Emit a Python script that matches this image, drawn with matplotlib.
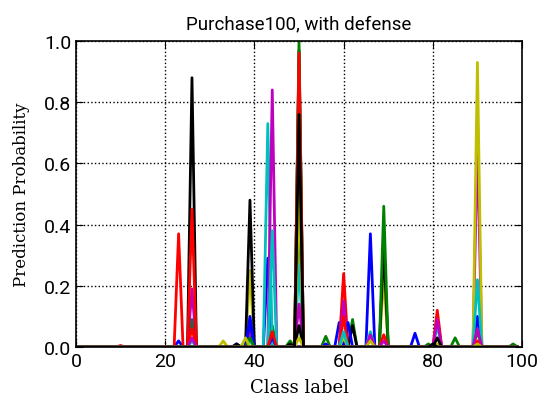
import numpy as np
import matplotlib
matplotlib.use("Agg")
import matplotlib.pyplot as plt

# prediction vectors of a few member samples (mostly zero, spikes at a few labels)
n_classes = 100
line_colors = ["b", "g", "r", "c", "m", "y", "k",
               "b", "g", "r", "c", "m", "y", "k",
               "b", "g", "r", "c", "m", "y", "k"]
line_peaks = [
    {23: 0.02, 43: 0.29, 59: 0.08, 76: 0.045, 90: 0.10},
    {26: 0.09, 44: 0.07, 50: 0.45, 62: 0.09, 85: 0.03},
    {23: 0.37, 39: 0.06, 60: 0.24},
    {43: 0.73, 50: 0.27, 69: 0.30, 81: 0.07},
    {26: 0.19, 44: 0.84, 60: 0.15, 90: 0.67},
    {33: 0.02, 39: 0.25, 50: 0.50, 69: 0.23, 90: 0.93},
    {26: 0.88, 39: 0.48, 50: 0.97, 62: 0.07, 69: 0.33},
    {36: 0.01, 39: 0.10, 61: 0.08, 66: 0.37},
    {48: 0.02, 50: 1.00, 56: 0.035, 69: 0.46, 79: 0.01, 98: 0.01},
    {10: 0.005, 26: 0.45, 50: 0.96, 81: 0.12},
    {39: 0.02, 44: 0.38, 66: 0.05, 90: 0.22},
    {39: 0.04, 50: 0.14, 66: 0.04, 81: 0.09},
    {56: 0.01, 60: 0.03, 66: 0.02, 81: 0.01},
    {36: 0.01, 48: 0.01, 50: 0.07, 81: 0.03},
    {39: 0.08, 44: 0.03, 56: 0.01},
    {39: 0.03, 90: 0.05},
    {26: 0.06, 44: 0.05, 60: 0.10, 69: 0.04, 90: 0.02},
    {26: 0.02, 60: 0.05},
    {26: 0.03, 69: 0.02, 90: 0.06},
    {38: 0.03, 50: 0.03, 90: 0.01},
    {50: 0.76, 80: 0.01},
]

labels = np.arange(n_classes)
probs = np.zeros((len(line_peaks), n_classes))
for i, peaks in enumerate(line_peaks):
    for c, p in peaks.items():
        probs[i, c] = p

fig = plt.figure(figsize=(5.52, 4.02), dpi=100)
ax = fig.add_axes([0.1377, 0.1343, 0.808, 0.7612])

for i in range(len(probs)):
    ax.plot(labels, probs[i], color=line_colors[i], linewidth=2)

ax.set_xlim(0, 100)
ax.set_ylim(0, 1.0)
ax.set_xticks([0, 20, 40, 60, 80, 100])
ax.set_yticks([0.0, 0.2, 0.4, 0.6, 0.8, 1.0])
ax.grid(True, linestyle=":", color="black", linewidth=1)
ax.tick_params(direction="in", top=True, right=True, length=5, labelsize=14)
for t in ax.get_xticklabels() + ax.get_yticklabels():
    t.set_fontfamily("Roboto")
for s in ax.spines.values():
    s.set_linewidth(1.2)

ax.set_xlabel("Class label", fontsize=13, family="DejaVu Serif", labelpad=6)
ax.set_ylabel("Prediction Probability", fontsize=12, family="DejaVu Serif", labelpad=10)
ax.set_title("Purchase100, with defense", fontsize=13.5, family="Roboto", pad=9)

fig.savefig("out.png", dpi=100)
